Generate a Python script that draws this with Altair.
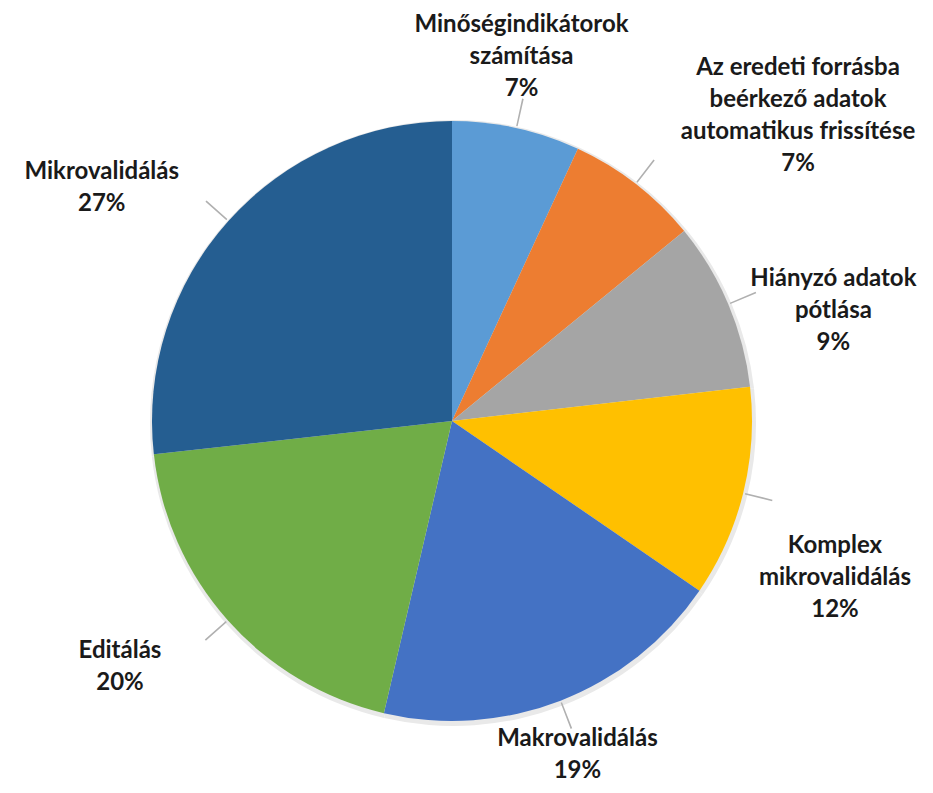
import altair as alt
import pandas as pd

# --- data ---
names = [
    "Minőségindikátorok számítása",
    "Az eredeti forrásba beérkező adatok automatikus frissítése",
    "Hiányzó adatok pótlása",
    "Komplex mikrovalidálás",
    "Makrovalidálás",
    "Editálás",
    "Mikrovalidálás",
]
label_lines = [
    "Minőségindikátorok\nszámítása",
    "Az eredeti forrásba\nbeérkező adatok\nautomatikus  frissítése",
    "Hiányzó adatok\npótlása",
    "Komplex\nmikrovalidálás",
    "Makrovalidálás",
    "Editálás",
    "Mikrovalidálás",
]
shares = [6.9, 7.2, 9.1, 11.4, 19.1, 19.6, 26.8]
pct_labels = ["7%", "7%", "9%", "12%", "19%", "20%", "27%"]
colors = ["#5B9BD5", "#ED7D31", "#A5A5A5", "#FFC000", "#4472C4", "#70AD47", "#255E91"]

# --- label layout (first-line anchor: angle shift in degrees from slice middle, radius in px) ---
label_shift = [-2.45, 6.7, 2.5, 4.2, -0.3, 6.9, -6.35]
label_radius = [402, 494, 407, 403, 342, 404, 430]

df = pd.DataFrame({
    "name": names,
    "value": shares,
    "order": list(range(len(names))),
    "label": [l + "\n" + p for l, p in zip(label_lines, pct_labels)],
    "shift": label_shift,
    "lr": label_radius,
})

CX, CY, R = 444, 413, 300

base = alt.Chart(df).transform_joinaggregate(
    total="sum(value)"
).transform_window(
    cum="sum(value)", sort=[alt.SortField("order")], frame=[None, 0]
).transform_calculate(
    mid="(datum.cum - datum.value/2) / datum.total * 2 * PI",
    lmid="(datum.cum - datum.value/2) / datum.total * 2 * PI + datum.shift * PI / 180",
    m1="(datum.cum - datum.value/2) / datum.total * 2 * PI - 0.0025",
    m2="(datum.cum - datum.value/2) / datum.total * 2 * PI + 0.0025",
)

shadow = alt.Chart(df).mark_arc(color="#e9e9e9").encode(
    theta=alt.Theta("value:Q", stack=True),
    order=alt.Order("order:Q"),
    x=alt.value(CX + 1), y=alt.value(CY + 2),
    radius=alt.value(R + 3),
)

pie = alt.Chart(df).mark_arc().encode(
    theta=alt.Theta("value:Q", stack=True),
    order=alt.Order("order:Q"),
    color=alt.Color("name:N", scale=alt.Scale(domain=names, range=colors), legend=None),
    x=alt.value(CX), y=alt.value(CY),
    radius=alt.value(R),
)

leaders = base.mark_arc(color="#b0b0b0").encode(
    theta=alt.Theta("m1:Q", scale=None),
    theta2="m2:Q",
    x=alt.value(CX), y=alt.value(CY),
    radius=alt.value(302),
    radius2=alt.value(330),
)

labels = base.mark_text(
    font="Lato", fontWeight="bold", fontSize=24, lineHeight=32,
    align="center", baseline="middle", lineBreak="\n", color="#1a1a1a",
).encode(
    theta=alt.Theta("lmid:Q", scale=None),
    radius=alt.Radius("lr:Q", scale=None),
    x=alt.value(CX), y=alt.value(CY),
    text="label:N",
)

chart = alt.layer(shadow, pie, leaders, labels).properties(
    width=917, height=777,
    autosize=alt.AutoSizeParams(type="none"),
    padding=0,
).configure_view(stroke=None)

chart.save("out.html", embed_options={"renderer": "svg", "actions": False})
